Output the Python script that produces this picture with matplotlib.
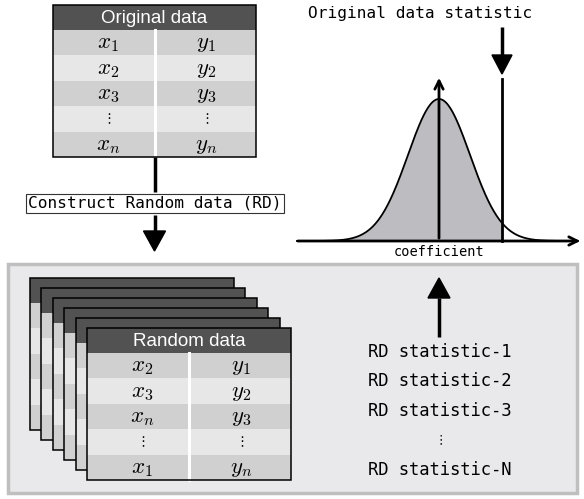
import numpy as np
import matplotlib
matplotlib.use('Agg')
import matplotlib.pyplot as plt
from matplotlib.patches import Rectangle, Polygon

plt.rcParams['mathtext.fontset'] = 'cm'

# Table contents
table_title = 'Original data'
orig_x = [r'$x_1$', r'$x_2$', r'$x_3$', r'$\vdots$', r'$x_n$']
orig_y = [r'$y_1$', r'$y_2$', r'$y_3$', r'$\vdots$', r'$y_n$']

random_title = 'Random data'
rand_x = [r'$x_2$', r'$x_3$', r'$x_n$', r'$\vdots$', r'$x_1$']
rand_y = [r'$y_1$', r'$y_2$', r'$y_3$', r'$\vdots$', r'$y_n$']
n_stacked = 6

construct_label = 'Construct Random data (RD)'
stat_label = 'Original data statistic'
axis_label = 'coefficient'
rd_stats = ['RD statistic-1', 'RD statistic-2', 'RD statistic-3', r'$\vdots$', 'RD statistic-N']

# schematic null distribution (centre, spread) and observed statistic, in pixels
dist_center = 439
dist_spread = 31
observed = 502

HEADER = '#525252'
ROW_DARK = '#d0d0d0'
ROW_LIGHT = '#e7e7e7'
MONO = 'DejaVu Sans Mono'


def cell_size(s):
    return 10 if 'vdots' in s else 16.5


def draw_table(ax, x0, y0, title=None, left=None, right=None, w=204, h=152, hh=25, z=2):
    ax.add_patch(Rectangle((x0, y0), w, hh, facecolor=HEADER, edgecolor='none', zorder=z))
    rh = (h - hh) / 5
    for i in range(5):
        c = ROW_DARK if i % 2 == 0 else ROW_LIGHT
        ax.add_patch(Rectangle((x0, y0 + hh + i * rh), w, rh, facecolor=c,
                               edgecolor='none', zorder=z))
    ax.plot([x0 + w / 2, x0 + w / 2], [y0 + hh, y0 + h], color='white', lw=2.2, zorder=z + 0.1)
    ax.add_patch(Rectangle((x0, y0), w, h, facecolor='none', edgecolor='black',
                           lw=1.1, zorder=z + 0.2))
    if title is not None:
        ax.text(x0 + w / 2, y0 + hh / 2 + 1, title, color='white', ha='center', va='center',
                fontsize=13.5, family='Liberation Sans', zorder=z + 0.3)
    if left is not None:
        for i in range(5):
            yc = y0 + hh + (i + 0.5) * rh
            ax.text(x0 + w / 4 + 4, yc, left[i], ha='center', va='center',
                    fontsize=cell_size(left[i]), zorder=z + 0.3)
            ax.text(x0 + 3 * w / 4 + 1, yc, right[i], ha='center', va='center',
                    fontsize=cell_size(right[i]), zorder=z + 0.3)


def block_arrow(ax, x, y_from, y_to, head_len=20, head_w=22, lw=2.5):
    d = 1 if y_to > y_from else -1
    base = y_to - d * head_len
    ax.plot([x, x], [y_from, base], color='black', lw=lw, solid_capstyle='butt', zorder=20)
    if head_w > 0:
        ax.add_patch(Polygon([(x - head_w / 2, base), (x + head_w / 2, base), (x, y_to)],
                             closed=True, facecolor='black', edgecolor='black', zorder=20))


fig = plt.figure(figsize=(5.84, 4.99), dpi=100)
ax = fig.add_axes([0, 0, 1, 1])
ax.set_xlim(0, 584)
ax.set_ylim(499, 0)
ax.axis('off')

# original table and construct step
draw_table(ax, 53, 5, table_title, orig_x, orig_y, w=203)
block_arrow(ax, 154.5, 157, 192, head_len=0, head_w=0)
ax.text(155, 203.5, construct_label, ha='center', va='center', fontsize=11.6, family=MONO,
        bbox=dict(boxstyle='square,pad=0.15', facecolor='white', edgecolor='#333333', lw=0.8))
block_arrow(ax, 154.5, 215, 251)

# lower panel
ax.add_patch(Rectangle((8, 264), 569, 229, facecolor='#e9e9eb', edgecolor='#bfbfbf',
                       lw=2.5, zorder=1))
for k in range(n_stacked):
    x0 = 30 + k * 11.4
    y0 = 278 + k * 10
    if k == n_stacked - 1:
        draw_table(ax, x0, y0, random_title, rand_x, rand_y, z=2 + k)
    else:
        draw_table(ax, x0, y0, z=2 + k)

block_arrow(ax, 439, 337, 278, head_len=20, head_w=22)
for i, s in enumerate(rd_stats):
    ax.text(440, 352 + i * 29.5, s, ha='center', va='center',
            fontsize=9 if 'vdots' in s else 12.3, family=MONO, zorder=20)

# distribution sketch
base_y = 241
peak_h = 142
xs = np.linspace(297, 578, 400)
ys = base_y - peak_h * np.exp(-0.5 * ((xs - dist_center) / dist_spread) ** 2)
mask = xs <= observed
ax.fill_between(xs[mask], ys[mask], base_y, color='#bdbdc1', lw=0, zorder=2)
ax.plot(xs, ys, color='black', lw=1.3, zorder=3)
ax.annotate('', xy=(583, base_y), xytext=(295, base_y),
            arrowprops=dict(arrowstyle='->,head_length=0.6,head_width=0.3', lw=2, color='black'),
            zorder=4)
ax.annotate('', xy=(dist_center, 75), xytext=(dist_center, base_y),
            arrowprops=dict(arrowstyle='->,head_length=0.6,head_width=0.3', lw=2, color='black'),
            zorder=4)
ax.plot([observed, observed], [base_y, 79], color='black', lw=2, zorder=4)
block_arrow(ax, observed, 27, 74, head_len=19, head_w=20)
ax.text(420, 13, stat_label, ha='center', va='center', fontsize=11.6, family=MONO)
ax.text(439, 252, axis_label, ha='center', va='center', fontsize=9.8, family=MONO)

fig.savefig('out.png', dpi=100)
